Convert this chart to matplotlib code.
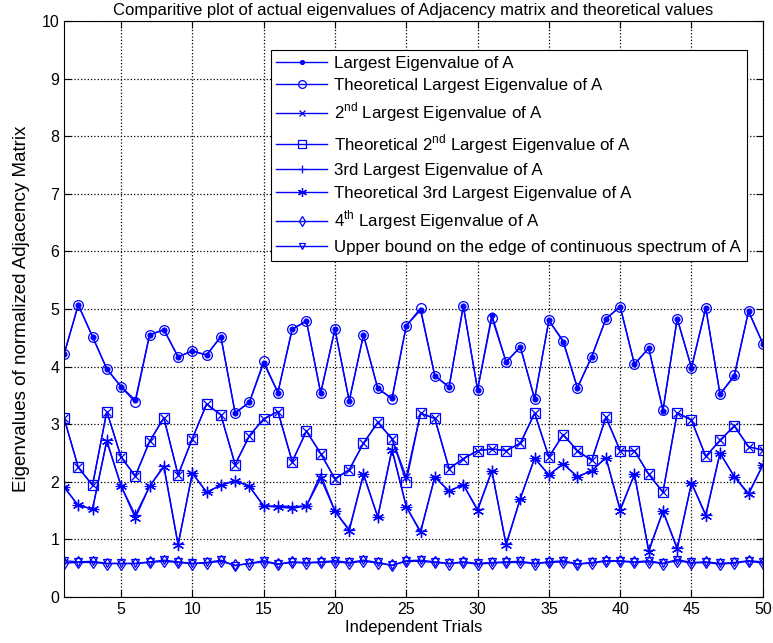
import numpy as np
import matplotlib.pyplot as plt

plt.rcParams['font.family'] = ['Liberation Sans', 'DejaVu Sans']
plt.rcParams['mathtext.fontset'] = 'custom'
plt.rcParams['mathtext.rm'] = 'Liberation Sans'

trials = np.arange(1, 51)

lam1 = [4.21, 5.07, 4.52, 3.96, 3.65, 3.42, 4.55, 4.64, 4.17, 4.27,
        4.20, 4.52, 3.20, 3.38, 4.06, 3.55, 4.65, 4.79, 3.54, 4.65,
        3.41, 4.55, 3.62, 3.45, 4.71, 4.98, 3.84, 3.65, 5.05, 3.60,
        4.90, 4.08, 4.34, 3.44, 4.80, 4.43, 3.63, 4.17, 4.83, 5.04,
        4.04, 4.32, 3.23, 4.83, 3.98, 5.02, 3.52, 3.83, 4.96, 4.40]
lam1_th = [4.21, 5.07, 4.52, 3.96, 3.65, 3.38, 4.55, 4.64, 4.17, 4.27,
           4.20, 4.52, 3.19, 3.38, 4.09, 3.55, 4.65, 4.79, 3.54, 4.65,
           3.40, 4.55, 3.62, 3.44, 4.71, 5.01, 3.84, 3.64, 5.05, 3.60,
           4.85, 4.08, 4.34, 3.44, 4.80, 4.45, 3.63, 4.17, 4.83, 5.04,
           4.04, 4.32, 3.25, 4.83, 3.98, 5.02, 3.52, 3.85, 4.96, 4.40]

lam2 = [3.11, 2.25, 1.94, 3.22, 2.43, 2.10, 2.70, 3.11, 2.12, 2.75,
        3.35, 3.16, 2.30, 2.80, 3.09, 3.22, 2.35, 2.88, 2.49, 2.05,
        2.21, 2.67, 3.03, 2.75, 2.08, 3.19, 3.10, 2.23, 2.40, 2.54,
        2.57, 2.54, 2.67, 3.19, 2.43, 2.82, 2.54, 2.37, 3.12, 2.54,
        2.54, 2.13, 1.82, 3.20, 3.07, 2.44, 2.72, 2.97, 2.61, 2.55]
lam2_th = [3.11, 2.25, 1.94, 3.22, 2.43, 2.10, 2.70, 3.11, 2.12, 2.75,
           3.35, 3.16, 2.30, 2.80, 3.09, 3.22, 2.35, 2.88, 2.49, 2.05,
           2.21, 2.67, 3.03, 2.75, 2.00, 3.19, 3.10, 2.23, 2.40, 2.54,
           2.57, 2.54, 2.67, 3.19, 2.43, 2.82, 2.54, 2.37, 3.12, 2.54,
           2.54, 2.13, 1.82, 3.20, 3.07, 2.44, 2.72, 2.97, 2.61, 2.55]

lam3 = [1.91, 1.59, 1.53, 2.72, 1.93, 1.42, 1.92, 2.28, 0.92, 2.15,
        1.82, 1.94, 2.02, 1.92, 1.58, 1.58, 1.57, 1.58, 2.13, 1.49,
        1.17, 2.13, 1.39, 2.57, 1.57, 1.14, 2.08, 1.84, 1.95, 1.52,
        2.19, 0.92, 1.71, 2.41, 2.12, 2.31, 2.09, 2.19, 2.42, 1.52,
        2.13, 0.81, 1.49, 0.85, 1.98, 1.43, 2.50, 2.09, 1.80, 2.29]
lam3_th = [1.91, 1.59, 1.53, 2.70, 1.93, 1.37, 1.92, 2.26, 0.90, 2.15,
           1.82, 1.94, 2.02, 1.92, 1.58, 1.56, 1.54, 1.58, 2.06, 1.49,
           1.15, 2.13, 1.39, 2.55, 1.57, 1.12, 2.08, 1.84, 1.95, 1.50,
           2.19, 0.90, 1.71, 2.41, 2.12, 2.31, 2.09, 2.19, 2.42, 1.50,
           2.13, 0.79, 1.49, 0.83, 1.98, 1.41, 2.50, 2.09, 1.78, 2.29]

lam4 = [0.59, 0.60, 0.60, 0.58, 0.58, 0.58, 0.60, 0.62, 0.60, 0.58,
        0.59, 0.62, 0.55, 0.58, 0.61, 0.57, 0.60, 0.59, 0.60, 0.61,
        0.59, 0.62, 0.59, 0.55, 0.62, 0.62, 0.60, 0.58, 0.60, 0.57,
        0.59, 0.60, 0.60, 0.58, 0.60, 0.61, 0.57, 0.59, 0.62, 0.62,
        0.60, 0.61, 0.58, 0.63, 0.59, 0.60, 0.57, 0.59, 0.62, 0.59]
edge = [0.63, 0.61, 0.62, 0.585, 0.585, 0.585, 0.61, 0.64, 0.61, 0.585,
        0.60, 0.64, 0.545, 0.585, 0.63, 0.574, 0.61, 0.60, 0.61, 0.63,
        0.60, 0.64, 0.60, 0.55, 0.63, 0.64, 0.61, 0.585, 0.61, 0.585,
        0.60, 0.61, 0.62, 0.585, 0.61, 0.63, 0.574, 0.60, 0.63, 0.63,
        0.61, 0.63, 0.585, 0.65, 0.60, 0.61, 0.585, 0.60, 0.63, 0.61]

fig = plt.figure(figsize=(7.73, 6.43), dpi=100)
ax = fig.add_axes([0.0828, 0.0715, 0.904, 0.896])

blue = (0, 0, 1)
kw = dict(color=blue, linewidth=1.0, markerfacecolor='none', markeredgecolor=blue, markeredgewidth=0.9)

ax.plot(trials, lam1, marker='.', markersize=7, label='Largest Eigenvalue of A', **{**kw, 'markerfacecolor': blue})
ax.plot(trials, lam1_th, marker='o', markersize=7, label='Theoretical Largest Eigenvalue of A', **kw)
ax.plot(trials, lam2, marker='x', markersize=6, label=r'2$^{\mathrm{nd}}$ Largest Eigenvalue of A', **kw)
ax.plot(trials, lam2_th, marker='s', markersize=7, label=r'Theoretical 2$^{\mathrm{nd}}$ Largest Eigenvalue of A', **kw)
ax.plot(trials, lam3, marker='+', markersize=8, label='3rd Largest Eigenvalue of A', **kw)
ax.plot(trials, lam3_th, marker=(6, 2, 0), markersize=8, label='Theoretical 3rd Largest Eigenvalue of A', **kw)
ax.plot(trials, lam4, marker='d', markersize=6, label=r'4$^{\mathrm{th}}$ Largest Eigenvalue of A', **kw)
ax.plot(trials, edge, marker='v', markersize=6, label='Upper bound on the edge of continuous spectrum of A', **kw)

ax.set_xlim(1, 50)
ax.set_ylim(0, 10)
ax.set_xticks(np.arange(5, 51, 5))
ax.set_yticks(np.arange(0, 11, 1))
ax.tick_params(direction='in', top=True, right=True, labelsize=11.5, length=5)
ax.grid(True, linestyle=':', color='black', linewidth=0.9)

ax.set_title('Comparitive plot of actual eigenvalues of Adjacency matrix and theoretical values', fontsize=12, pad=4)
ax.set_xlabel('Independent Trials', fontsize=12, labelpad=2)
ax.set_ylabel('Eigenvalues of normalized Adjacency Matrix', fontsize=13.5, labelpad=8)

leg = ax.legend(loc='upper right', bbox_to_anchor=(0.977, 0.95), fontsize=12.2, fancybox=False,
                framealpha=1, edgecolor='black', handlelength=3.0, handletextpad=0.4,
                labelspacing=0.45, borderpad=0.35, borderaxespad=0, markerscale=0.8)
leg.get_frame().set_linewidth(0.8)

plt.savefig('out.png', dpi=100)
